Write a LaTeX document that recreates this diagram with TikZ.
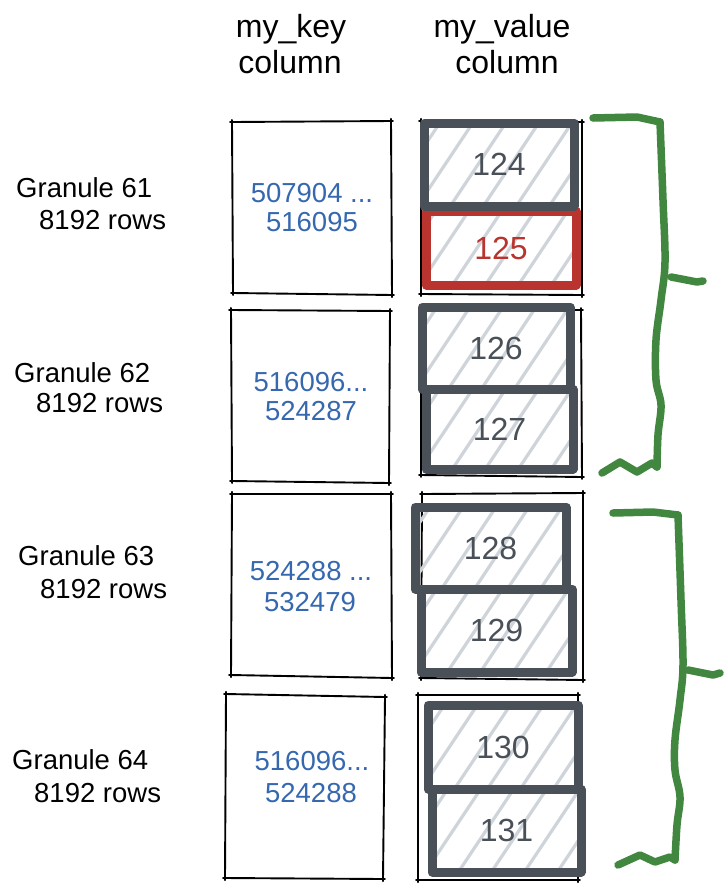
\documentclass[tikz,border=0pt]{standalone}
\usepackage{fontspec}
\setmainfont{Liberation Sans}
\usetikzlibrary{calc}
\definecolor{keyblue}{RGB}{54,104,176}
\definecolor{cellgray}{RGB}{73,80,87}
\definecolor{cellred}{RGB}{185,52,46}
\definecolor{hatchgray}{RGB}{206,212,218}
\definecolor{bracegreen}{RGB}{66,135,64}
\tikzset{
  sketch/.style={line width=1.9pt, black, line cap=round},
  thickcell/.style={line width=9pt, line join=round, line cap=round},
  hatchline/.style={hatchgray, line width=3.2pt},
  head/.style={font=\fontsize{32}{38}\selectfont, anchor=base, inner sep=0pt},
  gran/.style={font=\fontsize{27.5}{33}\selectfont, anchor=base west, inner sep=0pt},
  keytxt/.style={font=\fontsize{27.5}{33}\selectfont, anchor=base, inner sep=0pt, text=keyblue},
  numtxt/.style={font=\fontsize{32}{38}\selectfont, inner sep=0pt},
  brace/.style={bracegreen, line width=7.5pt, line cap=round, line join=round},
}
\newcommand{\sketchquad}[4]{%
  \draw[sketch] ($(#1)!-0.012!(#2)$) -- ($(#2)!-0.012!(#1)$);
  \draw[sketch] ($(#2)!-0.012!(#3)$) -- ($(#3)!-0.012!(#2)$);
  \draw[sketch] ($(#3)!-0.012!(#4)$) -- ($(#4)!-0.012!(#3)$);
  \draw[sketch] ($(#4)!-0.012!(#1)$) -- ($(#1)!-0.012!(#4)$);
}
\newcommand{\valcell}[7]{%
  \begin{scope}
    \clip (#1,#2) rectangle (#3,#4);
    \foreach \k in {-2,...,5} \draw[hatchline] ({#1+\k*33-10},{#4+5}) -- ++(80,-120);
  \end{scope}
  \draw[thickcell, draw=#5] (#1,#2) rectangle (#3,#4);
  \node[numtxt, text=#5] (#7) at ({(#1+#3)/2},{(#2+#4)/2}) {#6};
}
\begin{document}
\begin{tikzpicture}[x=1pt,y=-1pt]
\fill[white] (0,0) rectangle (727,887);
\useasboundingbox (0,0) rectangle (727,887);

% headers
\node[head] (hk1) at (291,37) {my\_key};
\node[head] (hk2) at (290,73) {column};
\node[head] (hv1) at (502,37) {my\_value};
\node[head] (hv2) at (507,73) {column};

% granule labels
\node[gran] (g61a) at (16,197) {Granule 61};
\node[gran] (g61b) at (39,229) {8192 rows};
\node[gran] (g62a) at (14,382) {Granule 62};
\node[gran] (g62b) at (36,412) {8192 rows};
\node[gran] (g63a) at (18,565) {Granule 63};
\node[gran] (g63b) at (40,598) {8192 rows};
\node[gran] (g64a) at (12,769) {Granule 64};
\node[gran] (g64b) at (34,802) {8192 rows};

% key column boxes
\sketchquad{232,122}{391,121}{392,295}{233,293}
\sketchquad{231,310}{390,311}{389,483}{232,481}
\sketchquad{232,494}{391,494}{392,678}{231,675}
\sketchquad{226,694}{385,697}{383,879}{225,878}

\node[keytxt] (k1a) at (312,202) {507904 ...};
\node[keytxt] (k1b) at (312,231) {516095};
\node[keytxt] (k2a) at (311,391) {516096...};
\node[keytxt] (k2b) at (311,420) {524287};
\node[keytxt] (k3a) at (311,580) {524288 ...};
\node[keytxt] (k3b) at (310,611) {532479};
\node[keytxt] (k4a) at (312,770) {516096...};
\node[keytxt] (k4b) at (311,802) {524288};

% value column outer boxes
\sketchquad{421,121}{582,122}{582,295}{421,294}
\sketchquad{421,309}{581,310}{582,477}{421,475}
\sketchquad{422,494}{583,493}{583,680}{421,678}
\sketchquad{418,695}{578,695}{578,880}{418,880}

% value cells
\valcell{426}{211}{576}{285}{cellred}{125}{v125}
\valcell{424}{123}{574}{206}{cellgray}{124}{v124}
\valcell{422}{307}{570}{389}{cellgray}{126}{v126}
\valcell{426}{389}{573}{469}{cellgray}{127}{v127}
\valcell{415}{507}{566}{589}{cellgray}{128}{v128}
\valcell{421}{589}{572}{672}{cellgray}{129}{v129}
\valcell{428}{705}{578}{789}{cellgray}{130}{v130}
\valcell{432}{789}{581}{872}{cellgray}{131}{v131}

% green braces
\draw[brace] (593,118) -- (637,117) -- (660,122);
\draw[brace] plot[smooth, tension=0.6] coordinates {(660,122) (663,200) (665,262) (661,300) (656,340) (656,380) (661,405) (658,435) (657,467)};
\draw[brace] (657,467) -- (652,463) -- (637,472) -- (620,462) -- (602,473);
\draw[brace] (671,277) -- (697,282) -- (703,281);

\draw[brace] (613,513) -- (653,512) -- (678,515);
\draw[brace] plot[smooth, tension=0.6] coordinates {(678,515) (681,600) (683,665) (680,700) (675,740) (675,770) (680,797) (677,825) (675,860)};
\draw[brace] (675,860) -- (670,857) -- (655,862) -- (640,855) -- (618,865);
\draw[brace] (688,670) -- (713,675) -- (720,673);
\end{tikzpicture}
\end{document}
